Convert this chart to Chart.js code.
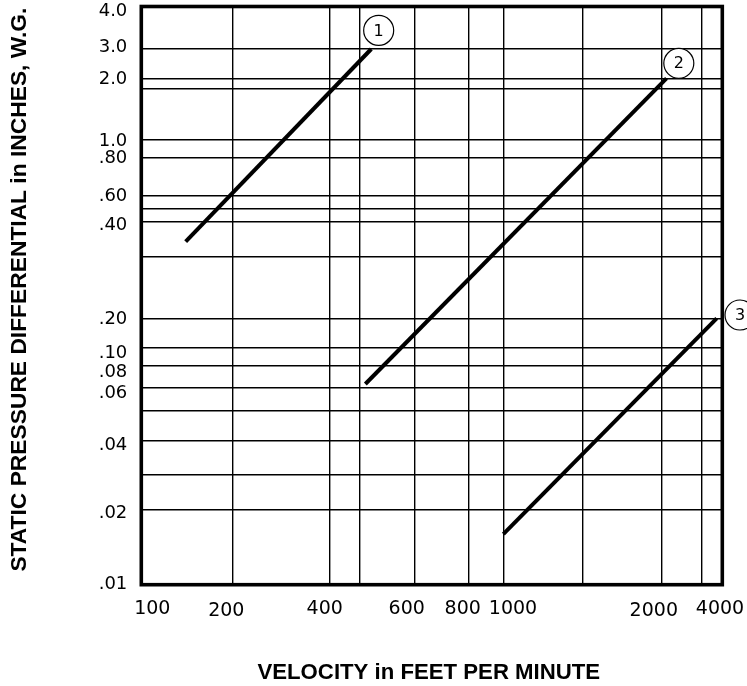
<!DOCTYPE html>
<html>
<head>
<meta charset="utf-8">
<script src="https://cdn.jsdelivr.net/npm/chart.js@4/dist/chart.umd.min.js"></script>
<style>
  html, body { margin: 0; padding: 0; background: #fff; }
  canvas { display: block; }
</style>
</head>
<body>
<canvas id="chart" width="747" height="686"></canvas>
<script>
// ---------------- DATA ----------------
// Velocity (feet per minute) grid lines and their printed labels
const velocityGrid = [100, 200, 400, 500, 600, 800, 1000, 1500, 2000, 3000, 4000];
const velocityTickLabels = ['100', '200', '400', '', '600', '800', '1000', '', '2000', '', '4000'];

// Static pressure (inches W.G.) grid lines and their printed labels
const pressureGrid = [0.01, 0.02, 0.03, 0.04, 0.05, 0.06, 0.08, 0.10, 0.20, 0.30, 0.40, 0.50, 0.60, 0.80, 1.0, 1.8, 2.0, 3.0, 4.0];
const pressureTickLabels = ['.01', '.02', '', '.04', '', '.06', '.08', '.10', '.20', '', '.40', '', '.60', '.80', '1.0', '', '2.0', '3.0', '4.0'];

// Curves (numbered 1, 2, 3)
const curveNames = ['1', '2', '3'];
const curve1Velocity = [140, 520];
const curve1Pressure = [0.34, 3.0];
const curve2Velocity = [510, 2100];
const curve2Pressure = [0.063, 2.0];
const curve3Velocity = [1000, 3700];
const curve3Pressure = [0.016, 0.20];

// ---------------- AXIS CALIBRATION ----------------
// The printed chart's log axes are hand-ruled: each grid value sits at
// the following fraction of the axis length.
const axisCalibration = {
  x: { values: velocityGrid,
       fractions: [0, 0.1573, 0.3248, 0.3752, 0.4711, 0.5628, 0.6231, 0.7597, 0.8957, 0.9645, 1] },
  y: { values: pressureGrid,
       fractions: [0, 0.1292, 0.1897, 0.2485, 0.3004, 0.3407, 0.3783, 0.4099, 0.4607, 0.5668, 0.6278,
                   0.6498, 0.6723, 0.7385, 0.7691, 0.8578, 0.8758, 0.9265, 1] }
};
// Printed tick labels are set slightly off their grid lines: [dx, dy] in px per tick.
const tickLabelNudge = {
  x: [[11, 0], [-6.4, 2], [-5.3, 0], [0, 0], [-8.3, 0], [-5.6, 0], [9.7, 0], [0, 0], [-7.9, 2], [0, 0], [-2.3, 0]],
  y: [[0, 0], [0, 3], [0, 0], [0, 4], [0, 0], [0, 5.3], [0, 6.5], [0, 6.1], [0, 0.7], [0, 0], [0, 3.3],
      [0, 0], [0, 0.7], [0, 0.6], [0, 1], [0, 0], [0, 0.9], [0, -1.5], [0, 4.8]]
};
// Axis title offsets [dx, dy] in px
const titleNudge = { x: [-3, 0], y: [0, -6] };

class CalibratedLogScale extends Chart.LogarithmicScale {
  _warp(v) {
    const c = axisCalibration[this.id];
    const vals = c.values, fr = c.fractions;
    let i = 0;
    while (i < vals.length - 2 && v > vals[i + 1]) i++;
    const l0 = Math.log10(vals[i]), l1 = Math.log10(vals[i + 1]);
    return fr[i] + (Math.log10(v) - l0) / (l1 - l0) * (fr[i + 1] - fr[i]);
  }
  _unwarp(d) {
    const c = axisCalibration[this.id];
    const vals = c.values, fr = c.fractions;
    let i = 0;
    while (i < fr.length - 2 && d > fr[i + 1]) i++;
    const l0 = Math.log10(vals[i]), l1 = Math.log10(vals[i + 1]);
    return Math.pow(10, l0 + (d - fr[i]) / (fr[i + 1] - fr[i]) * (l1 - l0));
  }
  getPixelForValue(value) {
    if (value === undefined || value === null || !(value > 0)) return NaN;
    return this.getPixelForDecimal(this._warp(value));
  }
  getValueForPixel(pixel) {
    return this._unwarp(this.getDecimalForPixel(pixel));
  }
  buildTicks() {
    this.start = this.min;
    this.end = this.max;
    return axisCalibration[this.id].values.map(v => ({ value: v }));
  }
  _computeLabelItems(chartArea) {
    const items = super._computeLabelItems(chartArea);
    const nudges = tickLabelNudge[this.id] || [];
    items.forEach((it, i) => {
      const n = nudges[i];
      if (n && it.options && it.options.translation) {
        it.options.translation = [it.options.translation[0] + n[0], it.options.translation[1] + n[1]];
      }
    });
    return items;
  }
  drawTitle() {
    const n = titleNudge[this.id] || [0, 0];
    const ctx = this.ctx;
    ctx.save();
    ctx.translate(n[0], n[1]);
    super.drawTitle();
    ctx.restore();
  }
}
CalibratedLogScale.id = 'calibratedLog';
CalibratedLogScale.defaults = Chart.LogarithmicScale.defaults;
Chart.register(CalibratedLogScale);

// ---------------- PLUGINS ----------------
const framePlugin = {
  id: 'frame',
  beforeDatasetsDraw(chart, args, opts) {
    const a = chart.chartArea, ctx = chart.ctx;
    ctx.save();
    ctx.strokeStyle = '#000';
    ctx.lineWidth = opts.width;
    ctx.strokeRect(a.left, a.top, a.right - a.left, a.bottom - a.top);
    ctx.restore();
  }
};

const curveTagPlugin = {
  id: 'curveTags',
  afterDatasetsDraw(chart, args, opts) {
    const ctx = chart.ctx;
    chart.data.datasets.forEach((ds, i) => {
      const meta = chart.getDatasetMeta(i);
      const pt = meta.data[meta.data.length - 1];
      const off = opts.offsets[i];
      const cx = pt.x + off[0], cy = pt.y + off[1];
      ctx.save();
      ctx.beginPath();
      ctx.arc(cx, cy, opts.radius, 0, Math.PI * 2);
      ctx.fillStyle = '#fff';
      ctx.fill();
      ctx.lineWidth = 1.2;
      ctx.strokeStyle = '#000';
      ctx.stroke();
      ctx.fillStyle = '#000';
      ctx.font = '16px "DejaVu Sans", sans-serif';
      ctx.textAlign = 'center';
      ctx.textBaseline = 'middle';
      ctx.fillText(ds.label, cx, cy + 1);
      ctx.restore();
    });
  }
};

// ---------------- CHART ----------------
const curves = [
  [curve1Velocity, curve1Pressure],
  [curve2Velocity, curve2Pressure],
  [curve3Velocity, curve3Pressure]
];

const datasets = curves.map((c, i) => ({
  label: curveNames[i],
  data: c[0].map((v, k) => ({ x: v, y: c[1][k] })),
  borderColor: '#000',
  borderWidth: 4,
  borderCapStyle: 'butt',
  pointRadius: 0,
  fill: false,
  tension: 0
}));

const tickFamily = "'DejaVu Sans', sans-serif";
const titleFamily = "'Liberation Sans', Arial, sans-serif";

new Chart(document.getElementById('chart'), {
  type: 'line',
  data: { datasets },
  options: {
    responsive: false,
    animation: false,
    events: [],
    layout: { padding: { left: 0, top: 6.5, right: 24.7, bottom: 0 } },
    plugins: {
      legend: { display: false },
      tooltip: { enabled: false },
      frame: { width: 3.6 },
      curveTags: { radius: 15, offsets: [[7.4, -18.6], [12.3, -15], [23.3, -3.3]] }
    },
    scales: {
      x: {
        type: 'calibratedLog',
        position: 'bottom',
        min: 100,
        max: 4000,
        border: { display: false },
        grid: { color: '#000', lineWidth: 1.4, drawTicks: false },
        ticks: {
          autoSkip: false, maxRotation: 0, minRotation: 0, padding: 13, color: '#000',
          font: { family: tickFamily, size: 19 },
          callback: (v, i) => velocityTickLabels[i]
        },
        title: {
          display: true, text: 'VELOCITY in FEET PER MINUTE', color: '#000',
          font: { family: titleFamily, size: 22.2, weight: 'bold' }, padding: { top: 0, bottom: 0 }
        },
        afterFit: (s) => { s.height = 101.3; s.paddingLeft = 0; s.paddingRight = 0; }
      },
      y: {
        type: 'calibratedLog',
        position: 'left',
        min: 0.01,
        max: 4.0,
        border: { display: false },
        grid: { color: '#000', lineWidth: 1.4, drawTicks: false },
        ticks: {
          autoSkip: false, padding: 14, color: '#000',
          font: { family: tickFamily, size: 18 },
          callback: (v, i) => pressureTickLabels[i]
        },
        title: {
          display: true, text: 'STATIC PRESSURE DIFFERENTIAL in INCHES, W.G.', color: '#000',
          font: { family: titleFamily, size: 22.8, weight: 'bold' }, padding: { top: 6, bottom: 0 }
        },
        afterFit: (s) => { s.width = 141.3; s.paddingTop = 0; s.paddingBottom = 0; }
      }
    }
  },
  plugins: [framePlugin, curveTagPlugin]
});
</script>
</body>
</html>
